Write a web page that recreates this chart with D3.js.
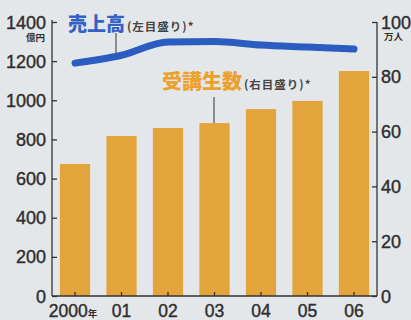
<!DOCTYPE html>
<html><head><meta charset="utf-8">
<script src="https://cdn.jsdelivr.net/npm/d3@7"></script>
<style>
html,body{margin:0;padding:0;background:#e4e7ea;}
svg{display:block;}
</style></head>
<body>
<svg id="c" width="411" height="320"></svg>
<script>
const years = ["2000","01","02","03","04","05","06"];
const sales = [1190, 1230, 1298, 1300, 1282, 1272, 1262];      // 億円 (left axis)
const students = [48.2, 58.4, 61.3, 63.1, 68.2, 71.2, 82.1];   // 万人 (right axis)
const leftTicks = [0,200,400,600,800,1000,1200,1400];
const rightTicks = [0,20,40,60,80,100];

const svg = d3.select("#c");
svg.append("rect").attr("width",411).attr("height",320).attr("fill","#e4e7ea");

const x = d3.scaleBand().domain(years).range([52,377]).paddingInner(0.35).paddingOuter(0.17);
const yL = d3.scaleLinear().domain([0,1400]).range([296,22]);
const yR = d3.scaleLinear().domain([0,100]).range([296,22]);

const numFont = "'Liberation Sans', Arial, sans-serif";
const jpFont = "'Noto Sans CJK JP', sans-serif";
const txt = "#2e2e2e";

// bars
svg.append("g").selectAll("rect").data(students).join("rect")
  .attr("x",(d,i)=>x(years[i]))
  .attr("width",x.bandwidth())
  .attr("y",d=>yR(d))
  .attr("height",d=>yR(0)-yR(d))
  .attr("fill","#e3a43b");

// axes
const gL = svg.append("g").attr("transform","translate(52,0)")
  .call(d3.axisRight(yL).tickValues(leftTicks).tickSize(5).tickFormat(""));
const gR = svg.append("g").attr("transform","translate(377,0)")
  .call(d3.axisLeft(yR).tickValues(rightTicks).tickSize(5).tickFormat(""));
const gB = svg.append("g").attr("transform","translate(0,296)")
  .call(d3.axisTop(x).tickSize(4).tickFormat(""));
[gL,gR,gB].forEach(g=>{
  g.selectAll("path,line").attr("stroke","#333").attr("stroke-width",1.3);
});
gB.select(".domain").attr("d","M52,0H377");
gL.select(".domain").attr("d","M0,296V20");
gR.select(".domain").attr("d","M0,296V22");

// tick labels
svg.append("g").selectAll("text").data(leftTicks).join("text")
  .attr("x",46).attr("y",d=>yL(d)+6.5)
  .attr("text-anchor","end").attr("font-family",numFont).attr("font-size",18)
  .attr("fill",txt).attr("stroke",txt).attr("stroke-width",0.4).text(d=>d);
svg.append("g").selectAll("text").data(rightTicks).join("text")
  .attr("x",381).attr("y",d=>yR(d)+6.5)
  .attr("font-family",numFont).attr("font-size",18)
  .attr("fill",txt).attr("stroke",txt).attr("stroke-width",0.4).text(d=>d);
svg.append("text").attr("x",45).attr("y",41).attr("text-anchor","end")
  .attr("font-family",jpFont).attr("font-weight",700).attr("font-size",9.5).attr("fill",txt).text("億円");
svg.append("text").attr("x",384).attr("y",40)
  .attr("font-family",jpFont).attr("font-weight",700).attr("font-size",9.5).attr("fill",txt).text("万人");

// x labels
const xl = svg.append("g").selectAll("text").data(years).join("text")
  .attr("x",(d,i)=>x(d)+x.bandwidth()/2 + (i===0?-2:0))
  .attr("y",317).attr("text-anchor","middle")
  .attr("font-family",numFont).attr("font-size",17.5).attr("fill",txt)
  .attr("stroke",txt).attr("stroke-width",0.4);
xl.append("tspan").text(d=>d);
xl.filter((d,i)=>i===0).append("tspan").attr("font-family",jpFont).attr("font-size",9.5)
  .attr("font-weight",700).attr("stroke","none").text("年");

// line
const line = d3.line().x((d,i)=>x(years[i])+x.bandwidth()/2).y(d=>yL(d)).curve(d3.curveMonotoneX);
svg.append("path").datum(sales).attr("d",line)
  .attr("fill","none").attr("stroke","#2b5cc0").attr("stroke-width",7)
  .attr("stroke-linecap","round").attr("stroke-linejoin","round");

// leader lines
svg.append("line").attr("x1",116).attr("x2",116).attr("y1",33).attr("y2",yL(1230)-2)
  .attr("stroke","#333").attr("stroke-width",1);
svg.append("line").attr("x1",214).attr("x2",214).attr("y1",97).attr("y2",yR(students[3]))
  .attr("stroke","#333").attr("stroke-width",1);

// series labels
const t1 = svg.append("text").attr("x",68).attr("y",31).attr("font-family",jpFont);
t1.append("tspan").attr("font-size",19).attr("font-weight",900).attr("fill","#3462c4").text("売上高");
t1.append("tspan").attr("font-size",11.5).attr("font-weight",700).attr("fill","#444")
  .attr("dx",2).attr("letter-spacing",1).text("(左目盛り)*");
const t2 = svg.append("text").attr("x",162).attr("y",89).attr("font-family",jpFont);
t2.append("tspan").attr("font-size",20).attr("font-weight",900).attr("fill","#eba130").text("受講生数");
t2.append("tspan").attr("font-size",11.5).attr("font-weight",700).attr("fill","#444")
  .attr("dx",2).attr("letter-spacing",1).text("(右目盛り)*");
</script>
</body></html>
